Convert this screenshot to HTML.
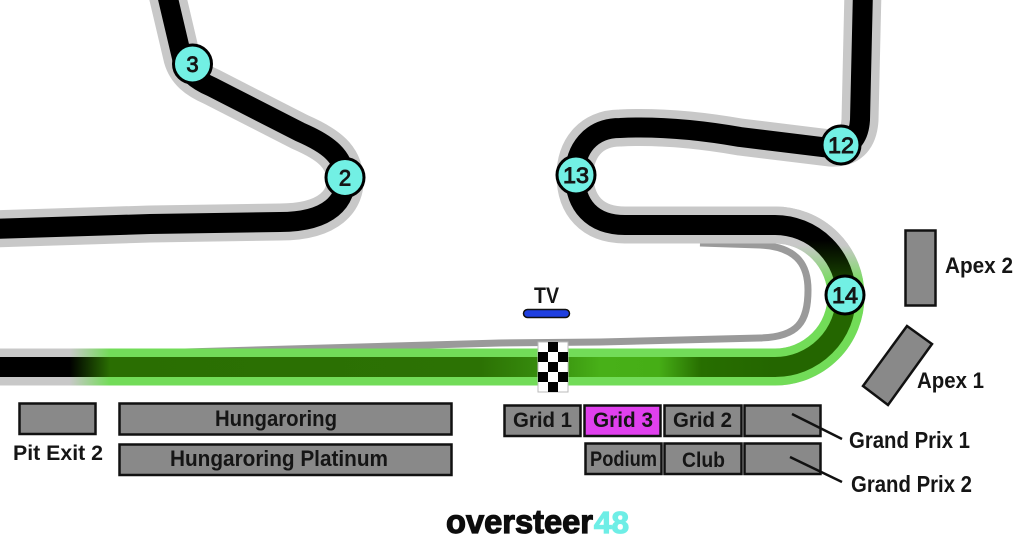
<!DOCTYPE html>
<html>
<head>
<meta charset="utf-8">
<style>
html,body{margin:0;padding:0;background:#fff;}
body{width:1024px;height:552px;overflow:hidden;}
svg{display:block;}
text{font-family:"Liberation Sans","DejaVu Sans",sans-serif;font-weight:bold;fill:#151515;}
</style>
</head>
<body>
<svg width="1024" height="552" viewBox="0 0 1024 552" xmlns="http://www.w3.org/2000/svg">
<defs>
  <linearGradient id="sl" gradientUnits="userSpaceOnUse" x1="0" y1="0" x2="775" y2="0">
    <stop offset="0.09" stop-color="#c8c8c8"/>
    <stop offset="0.142" stop-color="#72dc58"/>
    <stop offset="1" stop-color="#72dc58"/>
  </linearGradient>
  <linearGradient id="sd" gradientUnits="userSpaceOnUse" x1="0" y1="0" x2="775" y2="0">
    <stop offset="0.09" stop-color="#000"/>
    <stop offset="0.142" stop-color="#2a6e02"/>
    <stop offset="0.62" stop-color="#2c7204"/>
    <stop offset="0.72" stop-color="#3a9410"/>
    <stop offset="0.774" stop-color="#48b018"/>
    <stop offset="0.85" stop-color="#46ae16"/>
    <stop offset="0.905" stop-color="#276e00"/>
    <stop offset="1" stop-color="#246600"/>
  </linearGradient>
  <linearGradient id="al" gradientUnits="userSpaceOnUse" x1="0" y1="245" x2="0" y2="285">
    <stop offset="0" stop-color="#c8c8c8"/>
    <stop offset="1" stop-color="#72dc58"/>
  </linearGradient>
  <linearGradient id="ad" gradientUnits="userSpaceOnUse" x1="0" y1="240" x2="0" y2="300">
    <stop offset="0" stop-color="#000"/>
    <stop offset="1" stop-color="#246600"/>
  </linearGradient>
</defs>

<!-- pit lane -->
<path d="M700,243 L760,245 C800,247 808,268 808,290 C808,322 798,337 760,338 L600,342 L500,343 L185,352" fill="none" stroke="#9a9a9a" stroke-width="7" stroke-linejoin="round"/>

<!-- left track -->
<path d="M-10,229 L150,224 L280,222 C330,222 347,200 345,177 C343,157 330,145 300,132 L212,87 C196,80 186,72 182,58 L166,-10" fill="none" stroke="#c8c8c8" stroke-width="37" stroke-linejoin="round"/>
<path d="M-10,229 L150,224 L280,222 C330,222 347,200 345,177 C343,157 330,145 300,132 L212,87 C196,80 186,72 182,58 L166,-10" fill="none" stroke="#000" stroke-width="20" stroke-linejoin="round"/>

<!-- right track -->
<path d="M863,-10 L860,120 Q858,150 830,148 L740,137 C700,130 660,126 620,128 C590,128 575,150 575,175 C575,205 592,225 625,225 L775,225 A71 71 0 0 1 775,367 L-10,367" fill="none" stroke="#c8c8c8" stroke-width="37" stroke-linejoin="round"/>
<path d="M863,-10 L860,120 Q858,150 830,148 L740,137 C700,130 660,126 620,128 C590,128 575,150 575,175 C575,205 592,225 625,225 L775,225 A71 71 0 0 1 775,367 L-10,367" fill="none" stroke="#000" stroke-width="20" stroke-linejoin="round"/>

<!-- green overlays -->
<path d="M775,225 A71 71 0 0 1 775,367" fill="none" stroke="url(#al)" stroke-width="37"/>
<path d="M776,367 L-10,367" fill="none" stroke="url(#sl)" stroke-width="37"/>
<path d="M775,225 A71 71 0 0 1 775,367" fill="none" stroke="url(#ad)" stroke-width="20"/>
<path d="M776,367 L-10,367" fill="none" stroke="url(#sd)" stroke-width="20"/>

<!-- checkered flag -->
<rect x="538" y="342" width="30" height="50" fill="#fff" stroke="#bbb" stroke-width="1"/>
<g fill="#000">
  <rect x="548" y="342" width="10" height="10"/>
  <rect x="538" y="352" width="10" height="10"/>
  <rect x="558" y="352" width="10" height="10"/>
  <rect x="548" y="362" width="10" height="10"/>
  <rect x="538" y="372" width="10" height="10"/>
  <rect x="558" y="372" width="10" height="10"/>
  <rect x="548" y="382" width="10" height="10"/>
</g>

<!-- TV -->
<text x="534" y="303" font-size="22" textLength="25" lengthAdjust="spacingAndGlyphs">TV</text>
<rect x="523.5" y="309.5" width="46" height="8" rx="4" fill="#1f3fe0" stroke="#111" stroke-width="1.5"/>

<!-- turn markers -->
<g stroke="#000" stroke-width="3" fill="#72f0e4">
  <circle cx="192.5" cy="64" r="19"/>
  <circle cx="345" cy="177.5" r="19"/>
  <circle cx="576" cy="175" r="19"/>
  <circle cx="841" cy="145" r="19"/>
  <circle cx="845" cy="295" r="19"/>
</g>
<g font-size="22" text-anchor="middle">
  <text x="192.5" y="72" style="font-weight:normal;stroke:#151515;stroke-width:0.9">3</text>
  <text x="345" y="185.5" style="font-weight:normal;stroke:#151515;stroke-width:0.9">2</text>
  <text x="576" y="183" style="font-weight:normal;stroke:#151515;stroke-width:0.9" textLength="26" lengthAdjust="spacingAndGlyphs">13</text>
  <text x="841" y="153" style="font-weight:normal;stroke:#151515;stroke-width:0.9" textLength="26" lengthAdjust="spacingAndGlyphs">12</text>
  <text x="845" y="303" style="font-weight:normal;stroke:#151515;stroke-width:0.9" textLength="26" lengthAdjust="spacingAndGlyphs">14</text>
</g>

<!-- grandstands -->
<g stroke="#111" stroke-width="2.5" fill="#898989">
  <rect x="19.5" y="403.5" width="76" height="30.5"/>
  <rect x="119.5" y="403.5" width="332" height="31"/>
  <rect x="119.5" y="444.5" width="332" height="30.5"/>
  <rect x="504.5" y="405.5" width="76" height="30.5"/>
  <rect x="584.5" y="405.5" width="76" height="30.5" fill="#e040ee"/>
  <rect x="664.5" y="405.5" width="77" height="30.5"/>
  <rect x="744.5" y="405.5" width="76" height="30.5"/>
  <rect x="585.5" y="443.5" width="76" height="30.5"/>
  <rect x="664.5" y="443.5" width="77" height="30.5"/>
  <rect x="744.5" y="443.5" width="76" height="30.5"/>
  <polygon points="907,326 932,344 888,405 863,386"/>
  <rect x="905.5" y="230.5" width="30" height="75"/>
</g>
<g stroke="#111" stroke-width="2.5">
  <line x1="792" y1="414" x2="842" y2="439"/>
  <line x1="790" y1="457" x2="842" y2="482"/>
</g>

<!-- labels -->
<text x="215" y="426" font-size="22" textLength="122" lengthAdjust="spacingAndGlyphs">Hungaroring</text>
<text x="170" y="466" font-size="22" textLength="218" lengthAdjust="spacingAndGlyphs">Hungaroring Platinum</text>
<text x="13" y="460" font-size="21" textLength="90" lengthAdjust="spacingAndGlyphs">Pit Exit 2</text>
<text x="513" y="427" font-size="21" textLength="59" lengthAdjust="spacingAndGlyphs">Grid 1</text>
<text x="593" y="427" font-size="21" textLength="60" lengthAdjust="spacingAndGlyphs">Grid 3</text>
<text x="673" y="427" font-size="21" textLength="59" lengthAdjust="spacingAndGlyphs">Grid 2</text>
<text x="590" y="466" font-size="21" textLength="67" lengthAdjust="spacingAndGlyphs">Podium</text>
<text x="682" y="467" font-size="21" textLength="43" lengthAdjust="spacingAndGlyphs">Club</text>
<text x="849" y="448" font-size="23" textLength="121" lengthAdjust="spacingAndGlyphs">Grand Prix 1</text>
<text x="851" y="492" font-size="23" textLength="121" lengthAdjust="spacingAndGlyphs">Grand Prix 2</text>
<text x="945" y="273" font-size="22" textLength="68" lengthAdjust="spacingAndGlyphs">Apex 2</text>
<text x="917" y="388" font-size="22" textLength="67" lengthAdjust="spacingAndGlyphs">Apex 1</text>

<!-- logo -->
<text x="446" y="533" font-size="33" textLength="147" lengthAdjust="spacingAndGlyphs" style="font-weight:900;fill:#0d0d0d;stroke:#0d0d0d;stroke-width:1.2">oversteer</text>
<text x="594" y="533" font-size="31" textLength="35" lengthAdjust="spacingAndGlyphs" style="font-weight:900;fill:#6eeee6;stroke:#6eeee6;stroke-width:1.2">48</text>
</svg>
</body>
</html>
